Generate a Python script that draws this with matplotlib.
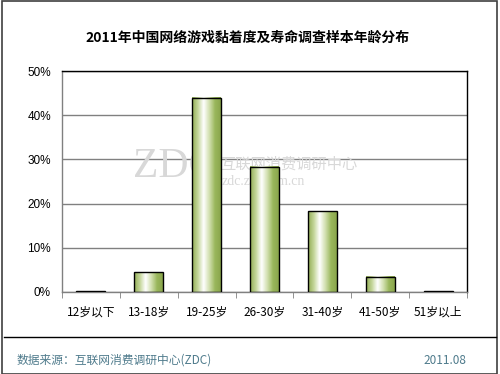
import numpy as np
import matplotlib
matplotlib.use("Agg")
from matplotlib import pyplot as plt
from matplotlib.colors import LinearSegmentedColormap
from matplotlib.patches import Rectangle

plt.rcParams['font.family'] = ['Noto Sans CJK SC', 'DejaVu Sans']

categories = ["12岁以下", "13-18岁", "19-25岁", "26-30岁", "31-40岁", "41-50岁", "51岁以上"]
values = [0.2, 4.5, 44.0, 28.3, 18.3, 3.5, 0.2]
y_ticks = [0, 10, 20, 30, 40, 50]
y_labels = ["0%", "10%", "20%", "30%", "40%", "50%"]

title = "2011年中国网络游戏黏着度及寿命调查样本年龄分布"
source = "数据来源：互联网消费调研中心(ZDC)"
date = "2011.08"

fig = plt.figure(figsize=(5.0, 3.74), dpi=100)
W, H = 500, 374
ax = fig.add_axes([62 / W, 1 - 292 / H, (467 - 62) / W, (292 - 71) / H])

# horizontal gradient: green edges, white towards the centre-left
grad = LinearSegmentedColormap.from_list(
    "bar", ["#93ae55", "#c4d69a", "#ffffff", "#d2e0b0", "#9ab75c", "#8aa64c"])
strip = np.linspace(0, 1, 64).reshape(1, -1)

x = np.arange(len(categories))
bw = 0.5
for xi, v in zip(x, values):
    ax.imshow(strip, cmap=grad, aspect="auto", zorder=2,
              extent=(xi - bw / 2, xi + bw / 2, 0, v))
    ax.add_patch(Rectangle((xi - bw / 2, 0), bw, v, fill=False,
                           edgecolor="black", linewidth=1.0, zorder=3))

ax.set_xlim(-0.5, len(categories) - 0.5)
ax.set_ylim(0, 50)
ax.set_yticks(y_ticks)
ax.set_yticklabels(y_labels, fontsize=8.5, family=["Liberation Sans", "DejaVu Sans"])
ax.set_xticks(x)
ax.set_xticklabels(categories, fontsize=8.5)
ax.set_xticks(np.arange(len(categories) + 1) - 0.5, minor=True)
ax.tick_params(axis="x", which="major", length=0, pad=10)
ax.tick_params(axis="x", which="minor", length=4, color="#808080", direction="out")
ax.tick_params(axis="y", length=0, pad=8)
ax.grid(axis="y", color="#808080", linewidth=1.0, zorder=1)
ax.set_axisbelow(True)
for side in ["top", "right"]:
    ax.spines[side].set_color("black")
    ax.spines[side].set_linewidth(1.0)
for side in ["left", "bottom"]:
    ax.spines[side].set_color("#808080")
    ax.spines[side].set_linewidth(1.0)

# watermark, behind the bars
ft = fig.transFigure
ax.text(133 / W, 1 - 186 / H, "ZDC", fontsize=30, color="#d8d8d8",
        family="Liberation Serif", ha="left", va="bottom", transform=ft, zorder=1.5)
ax.text(220 / W, 1 - 164 / H, "互联网消费调研中心", fontsize=11, color="#d8d8d8",
        ha="left", va="center", transform=ft, zorder=1.5)
ax.text(222 / W, 1 - 182 / H, "zdc.zol.com.cn", fontsize=10, color="#d8d8d8",
        family="Liberation Serif", ha="left", va="center", transform=ft, zorder=1.5)

fig.text(248 / W, 1 - 38 / H, title, fontsize=10, fontweight="bold",
         ha="center", va="center")

fig.add_artist(plt.Line2D([4 / W, 496 / W], [1 - 337 / H] * 2,
                          color="black", linewidth=1.0))
fig.text(17 / W, 1 - 360 / H, source, fontsize=8.5, color="#4f7b8c",
         ha="left", va="center")
fig.text(466 / W, 1 - 360 / H, date, fontsize=8.5, color="#4f7b8c",
         ha="right", va="center")

fig.add_artist(Rectangle((1.5 / W, 0.5 / H), 495.5 / W, 373 / H, fill=False,
                         edgecolor="#404040", linewidth=1.2,
                         transform=fig.transFigure))

fig.savefig("out.png", dpi=100)
